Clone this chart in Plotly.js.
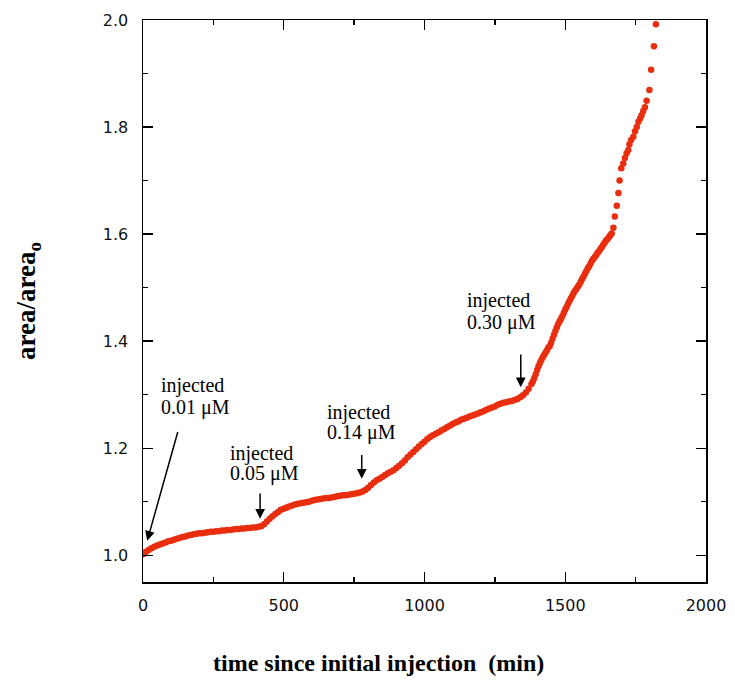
<!DOCTYPE html>
<html>
<head>
<meta charset="utf-8">
<script src="https://cdn.plot.ly/plotly-3.0.1.min.js"></script>
<style>html,body{margin:0;padding:0;background:#fff;}#chart{width:735px;height:681px;}</style>
</head>
<body>
<div id="chart"></div>
<script>
// time since initial injection (min)
const timeMin = [
0,10,20,30,40,50,60,70,80,90,100,110,120,130,140,150,160,170,180,190,
200,210,220,230,240,250,260,270,280,290,300,310,320,330,340,350,360,370,380,390,
400,410,420,430,440,450,460,470,480,490,500,510,520,530,540,550,560,570,580,590,
600,610,620,630,640,650,660,670,680,690,700,710,720,730,740,750,760,770,780,790,
800,810,820,830,840,850,860,870,880,890,900,910,920,930,940,950,960,970,980,990,
1000,1010,1020,1030,1040,1050,1060,1070,1080,1090,1100,1110,1120,1130,1140,1150,1160,1170,1180,1190,
1200,1210,1220,1230,1240,1250,1260,1270,1280,1290,1300,1310,1320,1330,1340,1350,1360,1370,1380,
1385,1390,1395,1400,1405,1410,1415,1420,1425,1430,1435,1440,1445,1450,1455,1460,1465,1470,1475,1480,
1485,1490,1495,1500,1505,1510,1515,1520,1525,1530,1535,1540,1545,1550,1555,1560,1565,1570,1575,1580,
1585,1590,1595,1600,1605,1610,1615,1620,1625,1630,1635,1640,1645,1650,1655,1660,1665,
1671,1676,1683,1689,1693,1699,1706,1712,1718,1724,1728,1734,1742,1748,1754,1760,1766,1771,1777,1783,
1789,1799,1805,1815,1822
];
// area / area_o
const areaRatio = [
1.002,1.006,1.010,1.013,1.016,1.018,1.020,1.022,1.024,1.026,1.027,1.029,1.031,1.032,1.034,1.035,1.037,1.038,1.039,1.040,
1.041,1.041,1.042,1.043,1.044,1.044,1.045,1.045,1.046,1.046,1.047,1.047,1.048,1.049,1.049,1.050,1.050,1.051,1.051,1.052,
1.052,1.053,1.054,1.058,1.063,1.068,1.073,1.077,1.081,1.085,1.087,1.089,1.091,1.093,1.095,1.096,1.097,1.098,1.099,1.100,
1.102,1.103,1.104,1.105,1.106,1.107,1.107,1.108,1.109,1.110,1.111,1.112,1.112,1.113,1.114,1.115,1.116,1.117,1.119,1.122,
1.126,1.131,1.136,1.140,1.143,1.146,1.150,1.153,1.156,1.159,1.163,1.167,1.172,1.177,1.183,1.188,1.193,1.198,1.203,1.208,
1.212,1.217,1.221,1.224,1.227,1.230,1.233,1.236,1.239,1.242,1.245,1.248,1.250,1.253,1.255,1.257,1.259,1.261,1.263,1.265,
1.267,1.269,1.272,1.274,1.276,1.278,1.281,1.283,1.285,1.286,1.287,1.288,1.290,1.292,1.295,1.299,1.304,1.311,1.320,
1.325,1.331,1.338,1.346,1.353,1.359,1.365,1.370,1.374,1.379,1.383,1.388,1.391,1.397,1.405,1.412,1.419,1.426,1.432,1.437,
1.442,1.447,1.453,1.459,1.464,1.470,1.475,1.480,1.485,1.490,1.494,1.498,1.502,1.506,1.511,1.516,1.521,1.526,1.531,1.536,
1.540,1.545,1.550,1.554,1.557,1.561,1.565,1.568,1.572,1.576,1.580,1.584,1.588,1.591,1.594,1.598,1.601,
1.612,1.633,1.653,1.677,1.700,1.723,1.732,1.742,1.751,1.757,1.768,1.776,1.782,1.792,1.800,1.810,1.816,1.822,1.830,1.837,
1.849,1.869,1.907,1.951,1.992
];
// injection labels
const injWord = 'injected';
const injDoses = ['0.01 μM','0.05 μM','0.14 μM','0.30 μM'];
const xTickVals = [0,500,1000,1500,2000];
const yTickVals = [1.0,1.2,1.4,1.6,1.8,2.0];

const serif = '"Liberation Serif","Times New Roman",Times,serif';
const sans = '"DejaVu Sans",Verdana,sans-serif';

const trace = {
  x: timeMin, y: areaRatio, type: 'scatter', mode: 'markers',
  marker: {color: 'rgb(232,46,14)', size: 6.5, line: {width: 0}},
  hoverinfo: 'skip'
};

// annotation placement (layout positions): left x, line-1 y, line-2 y
const txtPos = [[56,1.317,1.276],[302,1.190,1.153],[647,1.267,1.230],[1144,1.476,1.435]];
const arrows = [
  {hx:15, hy:1.027, tx:125, ty:1.233},
  {hx:416, hy:1.068, tx:416, ty:1.118},
  {hx:777, hy:1.143, tx:777, ty:1.190},
  {hx:1342, hy:1.314, tx:1342, ty:1.378}
];

const annotations = [];
injDoses.forEach((d,i)=>{
  [[injWord, txtPos[i][1]],[d, txtPos[i][2]]].forEach(([t,yy])=>{
    annotations.push({x: txtPos[i][0], y: yy, xref:'x', yref:'y', text: t,
      showarrow:false, xanchor:'left', yanchor:'middle', align:'left',
      font:{family: serif, size: 20, color:'#000'}});
  });
});
arrows.forEach(a=>{
  annotations.push({x:a.hx, y:a.hy, ax:a.tx, ay:a.ty, xref:'x', yref:'y', axref:'x', ayref:'y',
    text:'', showarrow:true, arrowhead:2, arrowsize:1.3, arrowwidth:1.5, arrowcolor:'#000', standoff:0, startstandoff:0});
});
annotations.push({xref:'paper', yref:'paper', x:0.419, y:0, yshift:-81, xanchor:'center', yanchor:'middle',
  text:'<b>time since initial injection  (min)</b>', showarrow:false,
  font:{family: serif, size: 24, color:'#000'}});
annotations.push({xref:'paper', yref:'paper', x:0, y:0.5, xshift:-115, xanchor:'center', yanchor:'middle',
  textangle:-90, text:'<b>area/area<sub>o</sub></b>', showarrow:false,
  font:{family: serif, size: 27, color:'#000'}});

const axisCommon = {
  showgrid:false, zeroline:false, showline:true, linecolor:'#000', linewidth:1.5,
  mirror:'allticks', ticks:'inside', ticklen:10, tickwidth:1.3, tickcolor:'#000',
  tickfont:{family: sans, size: 16, color:'#111'}
};

const layout = {
  width:735, height:681,
  margin:{l:143, r:29, t:20, b:99},
  paper_bgcolor:'#fff', plot_bgcolor:'#fff',
  showlegend:false,
  xaxis: Object.assign({}, axisCommon, {range:[0,2000], tickvals:xTickVals, ticktext:xTickVals.map(String),
    minor:{dtick:250, tick0:0, ticks:'inside', ticklen:5, tickwidth:1.3, tickcolor:'#000'}, ticklabelstandoff:8}),
  yaxis: Object.assign({}, axisCommon, {range:[0.95,2.0], tickvals:yTickVals, ticktext:yTickVals.map(v=>v.toFixed(1)),
    minor:{dtick:0.1, tick0:0, ticks:'inside', ticklen:5, tickwidth:1.3, tickcolor:'#000'}, ticklabelstandoff:10}),
  annotations: annotations
};

Plotly.newPlot('chart', [trace], layout, {staticPlot:true, displayModeBar:false});
</script>
</body>
</html>
